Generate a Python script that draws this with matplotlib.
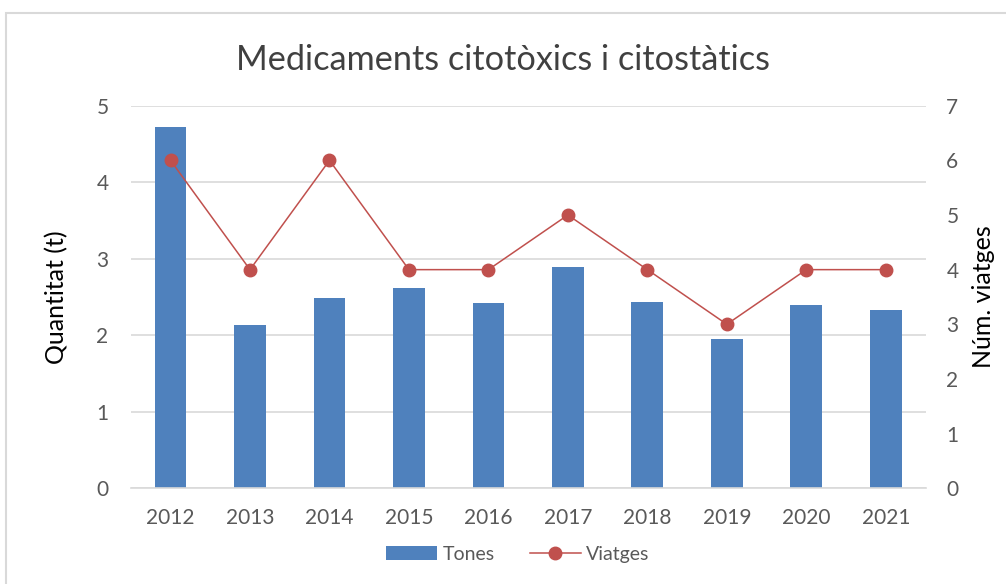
import numpy as np
import matplotlib.pyplot as plt
from matplotlib.patches import Rectangle

years = ['2012', '2013', '2014', '2015', '2016', '2017', '2018', '2019', '2020', '2021']
tones = [4.72, 2.13, 2.49, 2.62, 2.42, 2.89, 2.44, 1.95, 2.39, 2.33]
viatges = [6, 4, 6, 4, 4, 5, 4, 3, 4, 4]

plt.rcParams['font.family'] = ['Lato', 'DejaVu Sans']
txt = '#404040'

fig = plt.figure(figsize=(10.06, 5.84), dpi=100)
ax = fig.add_axes([0.130, 0.164, 0.790, 0.655])
ax2 = ax.twinx()

x = np.arange(len(years))
b = ax.bar(x, tones, width=0.4, color='#4F81BD', label='Tones', zorder=2)
l, = ax2.plot(x, viatges, color='#C0504D', lw=1.1, marker='o', ms=9, label='Viatges')

ax.set_xlim(-0.5, len(years) - 0.5)
ax.set_ylim(0, 5)
ax2.set_ylim(0, 7)
ax.set_yticks(range(6))
ax2.set_yticks(range(8))
ax.set_xticks(x)
ax.set_xticklabels(years)
ax.yaxis.grid(True, color='#D9D9D9', lw=1.2, zorder=0)
ax.set_axisbelow(True)

for a in (ax, ax2):
    for s in a.spines.values():
        s.set_visible(False)
    a.tick_params(length=0, labelsize=15, colors='#595959')
ax.spines['bottom'].set_visible(True)
ax.spines['bottom'].set_color('#D9D9D9')
ax.spines['bottom'].set_linewidth(1.2)
ax.tick_params(axis='x', pad=14)
ax.tick_params(axis='y', pad=16)
ax2.tick_params(axis='y', pad=15)

ax.set_ylabel('Quantitat (t)', fontsize=18, color='black', labelpad=20)
ax2.set_ylabel('Núm. viatges', fontsize=18, color='black', labelpad=10)
fig.suptitle('Medicaments citotòxics i citostàtics', fontsize=24.7, color=txt, y=0.925)

fig.legend([b, l], ['Tones', 'Viatges'], loc='center', bbox_to_anchor=(0.515, 0.051),
           ncol=2, frameon=False, fontsize=14, handlelength=2.6, handletextpad=0.3,
           columnspacing=1.8, labelcolor='#595959')

fig.add_artist(Rectangle((0.006, -0.01), 1.0, 0.987, transform=fig.transFigure,
                         fill=False, edgecolor='#D9D9D9', lw=1.5))

fig.savefig('out.png', dpi=100)
